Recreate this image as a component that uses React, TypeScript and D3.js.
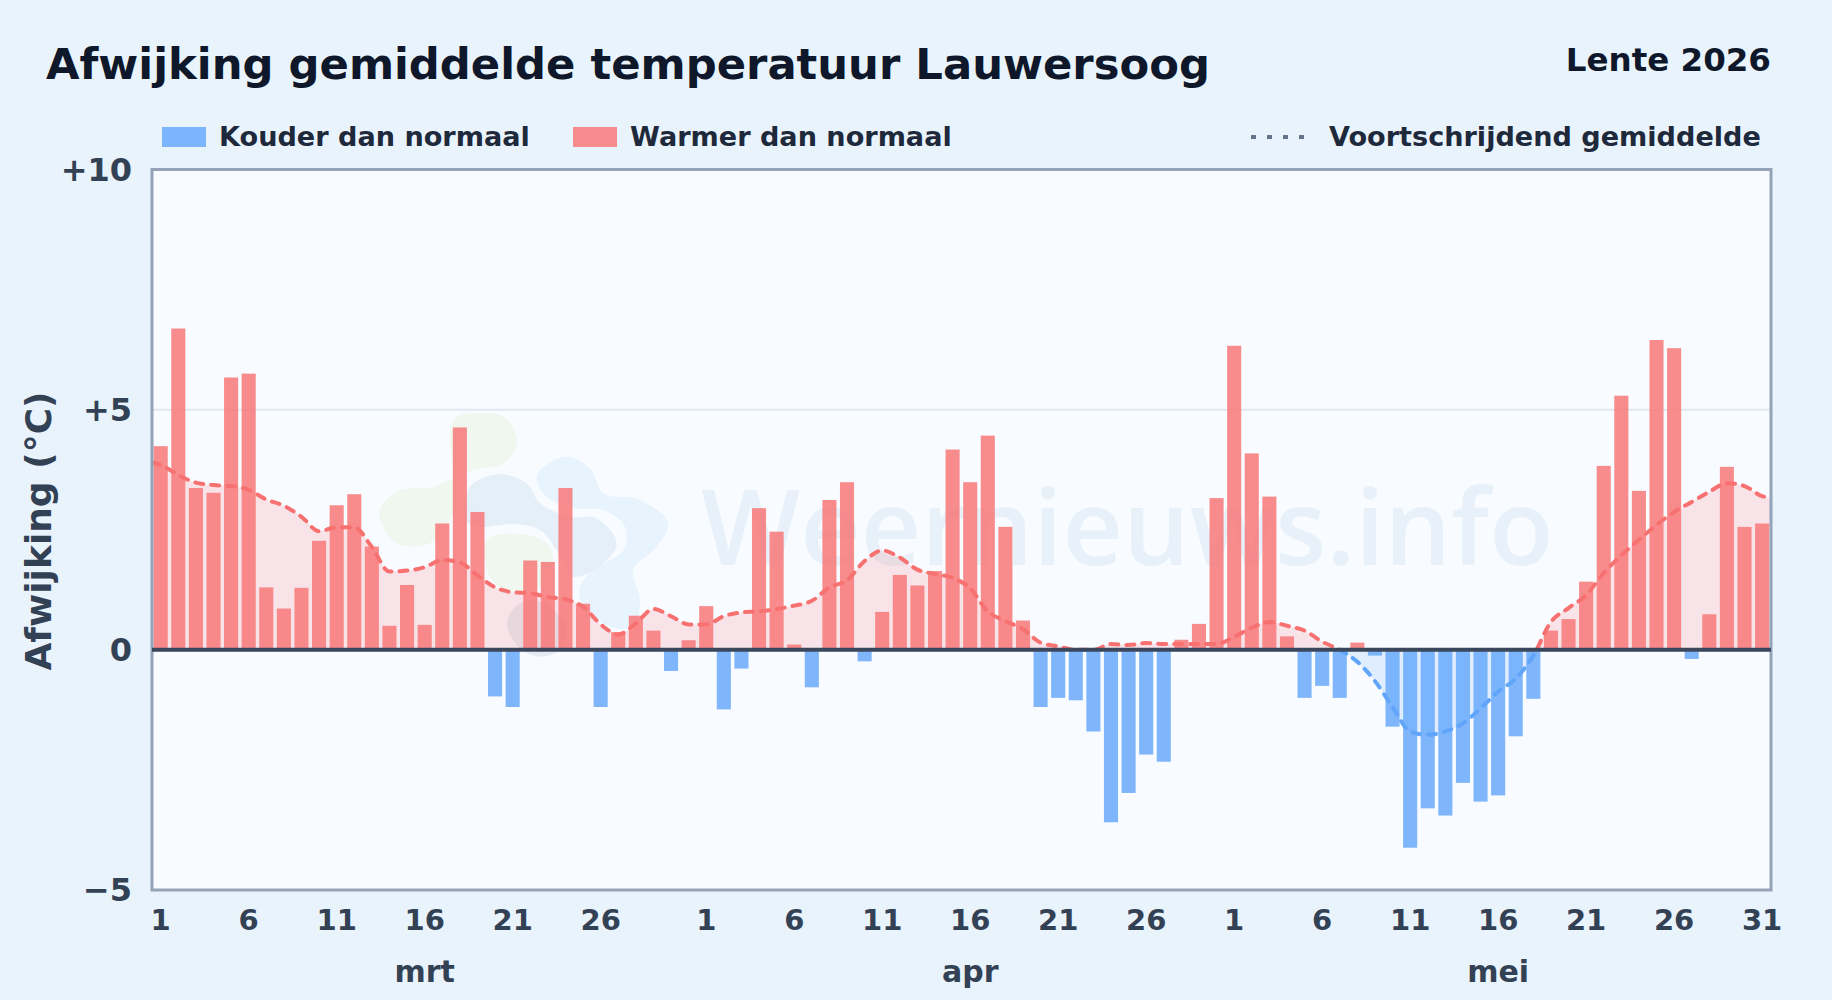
import React from "react";
import * as d3 from "d3";

const W = 1832, H = 1000;
const FONT = "'DejaVu Sans', sans-serif";

const marchDays = d3.range(1, 32).map((d) => ({ month: "mrt", day: d }));
const aprilDays = d3.range(1, 31).map((d) => ({ month: "apr", day: d }));
const mayDays = d3.range(1, 32).map((d) => ({ month: "mei", day: d }));
const days = [...marchDays, ...aprilDays, ...mayDays];

const marchValues = [4.24, 6.69, 3.37, 3.27, 5.67, 5.75, 1.3, 0.86, 1.29, 2.27, 3.01, 3.24, 2.15, 0.5, 1.35, 0.52, 2.63, 4.63, 2.87, -0.97, -1.19, 1.86, 1.83, 3.37, 0.96, -1.19, 0.37, 0.71, 0.4, -0.44, 0.2];
const aprilValues = [0.91, -1.24, -0.39, 2.95, 2.46, 0.11, -0.78, 3.12, 3.49, -0.24, 0.79, 1.56, 1.34, 1.64, 4.17, 3.49, 4.46, 2.56, 0.61, -1.19, -1.0, -1.05, -1.7, -3.59, -2.98, -2.18, -2.33, 0.21, 0.54, 3.16];
const mayValues = [6.33, 4.09, 3.19, 0.28, -1.0, -0.75, -1.0, 0.15, -0.12, -1.6, -4.12, -3.3, -3.45, -2.77, -3.16, -3.03, -1.8, -1.02, 0.4, 0.64, 1.42, 3.83, 5.29, 3.31, 6.45, 6.28, -0.19, 0.74, 3.81, 2.56, 2.63];
const values = [...marchValues, ...aprilValues, ...mayValues];

const avgAtLeftEdge = 3.9;
const marchAvg = [3.85, 3.64, 3.48, 3.43, 3.41, 3.33, 3.13, 3.0, 2.77, 2.47, 2.55, 2.55, 2.14, 1.63, 1.65, 1.72, 1.87, 1.82, 1.55, 1.3, 1.2, 1.18, 1.1, 1.05, 0.9, 0.53, 0.32, 0.55, 0.85, 0.7, 0.53];
const aprilAvg = [0.53, 0.7, 0.78, 0.8, 0.85, 0.92, 1.02, 1.3, 1.45, 1.85, 2.07, 1.92, 1.67, 1.58, 1.5, 1.28, 0.8, 0.6, 0.43, 0.15, 0.07, 0, 0, 0.12, 0.1, 0.14, 0.12, 0.12, 0.12, 0.12];
const mayAvg = [0.27, 0.46, 0.58, 0.5, 0.4, 0.17, 0, -0.25, -0.65, -1.19, -1.7, -1.77, -1.7, -1.53, -1.22, -0.87, -0.6, -0.12, 0.58, 0.87, 1.14, 1.6, 1.97, 2.29, 2.6, 2.87, 3.08, 3.29, 3.47, 3.41, 3.2];
const avgAtRightEdge = 3.17;
const movingAvg = [...marchAvg, ...aprilAvg, ...mayAvg];

const yTicks = [10, 5, 0, -5];
const yTickLabels = ["+10", "+5", "0", "\u22125"];
const monthLabels = [
  { label: "mrt", index: 15 },
  { label: "apr", index: 46 },
  { label: "mei", index: 76 },
];

const TITLE = "Afwijking gemiddelde temperatuur Lauwersoog";
const SUBTITLE = "Lente 2026";
const Y_LABEL = "Afwijking (\u00b0C)";
const WATERMARK = "Weernieuws.info";

// Decorative logo blobs of the watermark, in crop coordinates around the logo
const blobGreenTop = [[340, 120], [420, 100], [490, 110], [532, 185], [490, 250], [400, 270], [330, 300], [280, 320], [170, 335], [118, 400], [170, 490], [270, 490], [340, 400]];
const blobGreenLow = [[440, 480], [540, 462], [620, 490], [640, 550], [600, 620], [500, 630], [450, 590]];
const blobBlue = [[600, 270], [680, 230], [750, 265], [790, 340], [900, 360], [985, 430], [950, 500], [880, 570], [900, 660], [880, 740], [810, 740], [730, 680], [720, 620], [760, 570], [850, 510], [855, 440], [790, 390], [700, 385], [620, 350], [590, 300]];
const blobGrey = [[390, 320], [480, 283], [560, 310], [600, 370], [690, 410], [770, 415], [830, 490], [790, 550], [700, 590], [650, 510], [600, 450], [520, 432], [420, 440], [375, 420]];
const blobDark = [[500, 730], [540, 670], [600, 665], [680, 740], [660, 810], [600, 830], [540, 805]];

export default function App() {
  const margin = { left: 152, right: 1771, top: 169.5, bottom: 890 };
  const x = d3
    .scaleBand<number>()
    .domain(d3.range(days.length))
    .range([margin.left - 0.1, margin.right - 0.1])
    .paddingInner(0.2)
    .paddingOuter(0.1);
  const cx = (i: number) => (x(i) as number) + x.bandwidth() / 2;
  const y = d3.scaleLinear().domain([-5, 10]).range([margin.bottom, margin.top]);

  // The average runs through the bar centres and on to both plot edges.
  const avgPoints: [number, number][] = [
    [margin.left, avgAtLeftEdge],
    ...movingAvg.map((v, i) => [cx(i), v] as [number, number]),
    [margin.right, avgAtRightEdge],
  ];
  const line = d3
    .line<[number, number]>()
    .x((d) => d[0])
    .y((d) => y(d[1]))
    .curve(d3.curveMonotoneX);
  const area = d3
    .area<[number, number]>()
    .x((d) => d[0])
    .y0(y(0))
    .y1((d) => y(d[1]))
    .curve(d3.curveMonotoneX);

  const blob = d3.line().curve(d3.curveCatmullRomClosed.alpha(0.5));
  const blobTransform = "translate(340 380) scale(0.3333)";

  const legendY = 136;
  return (
    <svg
      width={W}
      height={H}
      viewBox={`0 0 ${W} ${H}`}
      style={{ position: "absolute", left: 0, top: 0, fontFamily: FONT }}
    >
      <defs>
        <linearGradient id="bg" x1="0" y1="0" x2="1" y2="1">
          <stop offset="0" stopColor="#e8f3fc" />
          <stop offset="1" stopColor="#e9f3fc" />
        </linearGradient>
        <clipPath id="above">
          <rect x={margin.left} y={margin.top} width={margin.right - margin.left} height={y(0) - margin.top} />
        </clipPath>
        <clipPath id="below">
          <rect x={margin.left} y={y(0)} width={margin.right - margin.left} height={margin.bottom - y(0)} />
        </clipPath>
        <filter id="soft" x="-10%" y="-10%" width="120%" height="120%">
          <feGaussianBlur stdDeviation="1.5" />
        </filter>
      </defs>
      <rect width={W} height={H} fill="url(#bg)" />

      <text x={46} y={79} fontSize={43.3} fontWeight={700} fill="#0f172a">{TITLE}</text>
      <text x={1771} y={71} fontSize={32.5} fontWeight={700} fill="#0f172a" textAnchor="end">{SUBTITLE}</text>

      <g fontSize={27.1} fontWeight={700} fill="#1e293b">
        <rect x={162} y={127} width={44} height={20} fill="#60a5fa" fillOpacity={0.8} />
        <text x={219} y={legendY + 10}>Kouder dan normaal</text>
        <rect x={573} y={127} width={44} height={20} fill="#f87171" fillOpacity={0.8} />
        <text x={630} y={legendY + 10}>Warmer dan normaal</text>
        <line x1={1251} x2={1310} y1={legendY + 1} y2={legendY + 1} stroke="#64748b" strokeWidth={4} strokeDasharray="5 11" />
        <text x={1329} y={legendY + 10}>Voortschrijdend gemiddelde</text>
      </g>

      <rect x={margin.left} y={margin.top} width={margin.right - margin.left} height={margin.bottom - margin.top} fill="#f8fbff" />

      <g filter="url(#soft)" transform={blobTransform}>
        <path d={blob(blobGreenTop as any) as string} fill="#eff7ee" />
        <path d={blob(blobGreenLow as any) as string} fill="#eff7ee" />
        <path d={blob(blobBlue as any) as string} fill="#e8f4fd" />
        <path d={blob(blobGrey as any) as string} fill="#e5eff8" />
        <path d={blob(blobDark as any) as string} fill="#e6ebf3" />
      </g>
      <text x={701} y={565} fontSize={105} fontWeight={600} fill="#e8f1f9" style={{ fontFamily: "'Open Sans', sans-serif" }}>{WATERMARK}</text>

      <line x1={margin.left} x2={margin.right} y1={y(5)} y2={y(5)} stroke="#e2e8f0" strokeWidth={2} />

      <path d={area(avgPoints) as string} fill="#f87171" fillOpacity={0.16} clipPath="url(#above)" />
      <path d={area(avgPoints) as string} fill="#60a5fa" fillOpacity={0.16} clipPath="url(#below)" />

      {values.map((v, i) => (
        <rect
          key={i}
          x={x(i)}
          width={x.bandwidth()}
          y={v >= 0 ? y(v) : y(0)}
          height={Math.abs(y(v) - y(0))}
          fill={v >= 0 ? "#f87171" : "#60a5fa"}
          fillOpacity={0.8}
        />
      ))}

      <path d={line(avgPoints) as string} fill="none" stroke="#f87171" strokeWidth={4} strokeDasharray="8 8" strokeLinecap="round" clipPath="url(#above)" />
      <path d={line(avgPoints) as string} fill="none" stroke="#60a5fa" strokeWidth={4} strokeDasharray="8 8" strokeLinecap="round" clipPath="url(#below)" />

      <rect x={margin.left} y={margin.top} width={margin.right - margin.left} height={margin.bottom - margin.top} fill="none" stroke="#94a3b8" strokeWidth={3} />
      <line x1={margin.left} x2={margin.right} y1={y(0)} y2={y(0)} stroke="#3a475c" strokeWidth={4} />

      <g fontSize={32} fontWeight={700} fill="#334155" textAnchor="end">
        {yTicks.map((t, i) => (
          <text key={t} x={132} y={y(t) + 11}>{yTickLabels[i]}</text>
        ))}
      </g>
      <text transform={`translate(51 531) rotate(-90)`} fontSize={36} fontWeight={700} fill="#334155" textAnchor="middle">{Y_LABEL}</text>

      <g fontSize={29} fontWeight={700} fill="#334155" textAnchor="middle">
        {days.map((d, i) =>
          d.day % 5 === 1 && !(d.month === "mrt" && d.day === 31) ? (
            <text key={i} x={cx(i)} y={930}>{d.day}</text>
          ) : null
        )}
      </g>
      <g fontSize={30} fontWeight={700} fill="#334155" textAnchor="middle">
        {monthLabels.map((m) => (
          <text key={m.label} x={cx(m.index)} y={982}>{m.label}</text>
        ))}
      </g>
    </svg>
  );
}
